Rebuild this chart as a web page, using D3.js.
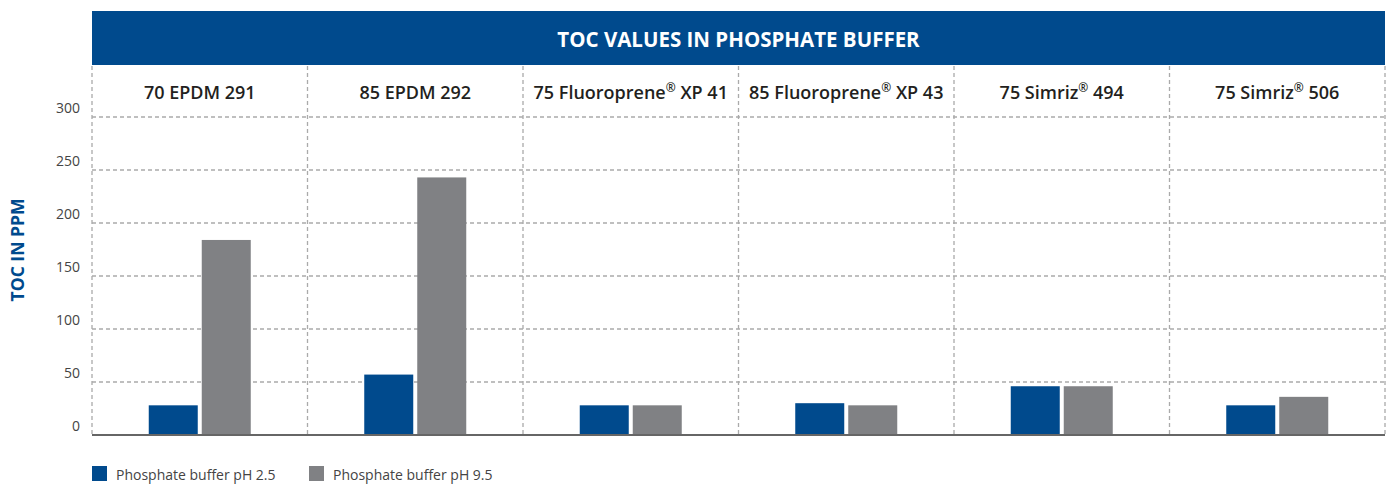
<html>
<head>
  <script src='https://d3js.org/d3.v7.min.js'></script>
  <style>
    html, body { margin: 0; background: #fff; }
    text { font-family: 'Open Sans', 'Noto Sans', sans-serif; }
  </style>
</head>
<body>
  <script>
    var categories = ['70 EPDM 291', '85 EPDM 292', '75 Fluoroprene® XP 41',
                      '85 Fluoroprene® XP 43', '75 Simriz® 494', '75 Simriz® 506'];
    var seriesNames = ['Phosphate buffer pH 2.5', 'Phosphate buffer pH 9.5'];
    var ph25 = [28, 57, 28, 30, 46, 28];
    var ph95 = [184, 243, 28, 28, 46, 36];
    var yTicks = [0, 50, 100, 150, 200, 250, 300];
    var title = 'TOC VALUES IN PHOSPHATE BUFFER';
    var yTitle = 'TOC IN PPM';

    var width = 1391, height = 487;
    var blue = '#004a8d', grey = '#808184';

    var svg = d3.select('body').append('svg')
      .attr('width', width)
      .attr('height', height);

    var pLeft = 92, pRight = 1385, pTop = 117, pBottom = 435;

    var x = d3.scaleBand().domain(categories).range([pLeft, pRight]);
    var y = d3.scaleLinear().domain([0, 300]).range([pBottom, pTop]);

    // header bar
    svg.append('rect')
      .attr('x', pLeft).attr('y', 11)
      .attr('width', pRight - pLeft).attr('height', 54)
      .attr('fill', blue);
    svg.append('text')
      .attr('x', (pLeft + pRight) / 2).attr('y', 39)
      .attr('text-anchor', 'middle').attr('dominant-baseline', 'central')
      .attr('fill', '#fff').attr('font-size', 20.5).attr('font-weight', 700)
      .text(title);

    // vertical dashed separators
    var seps = categories.map(function (c) { return x(c); }).concat([pRight]);
    svg.append('g').selectAll('line')
      .data(seps).enter().append('line')
      .attr('x1', function (d) { return d; }).attr('x2', function (d) { return d; })
      .attr('y1', 66).attr('y2', pBottom)
      .attr('stroke', '#aaa').attr('stroke-width', 1.3)
      .attr('stroke-dasharray', '4,3');

    // horizontal grid
    svg.append('g').selectAll('line')
      .data(yTicks.filter(function (d) { return d > 0; })).enter().append('line')
      .attr('x1', pLeft).attr('x2', pRight)
      .attr('y1', function (d) { return y(d); }).attr('y2', function (d) { return y(d); })
      .attr('stroke', '#aaa').attr('stroke-width', 1.3)
      .attr('stroke-dasharray', '4,3');

    // category labels
    svg.append('g').selectAll('text')
      .data(categories).enter().append('text')
      .attr('x', function (d) { return x(d) + x.bandwidth() / 2; })
      .attr('y', 92)
      .attr('text-anchor', 'middle').attr('dominant-baseline', 'central')
      .attr('fill', '#231f20').attr('font-size', 18).attr('font-weight', 600)
      .text(function (d) { return d; })
      .each(function () {
        // raise the ® sign
        var t = d3.select(this), s = t.text();
        if (s.indexOf('®') < 0) return;
        var parts = s.split('®');
        t.text(null);
        t.append('tspan').text(parts[0]);
        t.append('tspan').attr('font-size', 12).attr('dy', -5).text('®');
        t.append('tspan').attr('dy', 5).text(parts[1]);
      });

    // y tick labels
    svg.append('g').selectAll('text')
      .data(yTicks).enter().append('text')
      .attr('x', 80)
      .attr('y', function (d) { return y(d) - 4; })
      .attr('text-anchor', 'end')
      .attr('fill', '#444').attr('font-size', 14)
      .text(function (d) { return d; });

    // y title
    svg.append('text')
      .attr('transform', 'translate(17,250) rotate(-90)')
      .attr('text-anchor', 'middle').attr('dominant-baseline', 'central')
      .attr('fill', blue).attr('font-size', 17.5).attr('font-weight', 700)
      .text(yTitle);

    // bars
    var barW = 49, gap = 4;
    var bars = svg.append('g');
    bars.selectAll('rect.a')
      .data(ph25).enter().append('rect')
      .attr('class', 'a')
      .attr('x', function (d, i) { return x(categories[i]) + x.bandwidth() / 2 - gap / 2 - barW; })
      .attr('y', function (d) { return y(d); })
      .attr('width', barW)
      .attr('height', function (d) { return pBottom - y(d); })
      .attr('fill', blue);
    bars.selectAll('rect.b')
      .data(ph95).enter().append('rect')
      .attr('class', 'b')
      .attr('x', function (d, i) { return x(categories[i]) + x.bandwidth() / 2 + gap / 2; })
      .attr('y', function (d) { return y(d); })
      .attr('width', barW)
      .attr('height', function (d) { return pBottom - y(d); })
      .attr('fill', grey);

    // baseline
    svg.append('line')
      .attr('x1', pLeft).attr('x2', pRight)
      .attr('y1', pBottom).attr('y2', pBottom)
      .attr('stroke', '#666').attr('stroke-width', 2);

    // legend
    var legX = [92, 309];
    var leg = svg.append('g');
    seriesNames.forEach(function (n, i) {
      leg.append('rect')
        .attr('x', legX[i]).attr('y', 466)
        .attr('width', 15).attr('height', 15)
        .attr('fill', i === 0 ? blue : grey);
      leg.append('text')
        .attr('x', legX[i] + 24).attr('y', 474)
        .attr('dominant-baseline', 'central')
        .attr('fill', '#444').attr('font-size', 14)
        .text(n);
    });
  </script>
</body>
</html>
